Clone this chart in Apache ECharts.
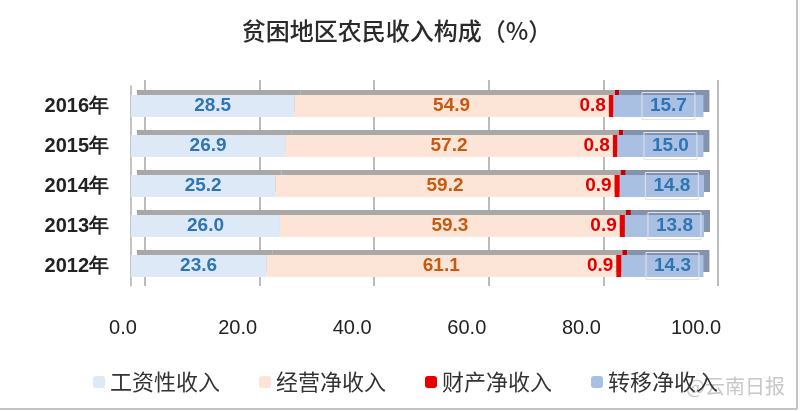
<!DOCTYPE html>
<html><head><meta charset="utf-8">
<script src="https://cdn.jsdelivr.net/npm/echarts@6/dist/echarts.min.js"></script>
<style>html,body{margin:0;padding:0;background:#fff}#c{width:800px;height:411px}</style>
</head><body><div id="c"></div>
<script>
const categories = ['2012年','2013年','2014年','2015年','2016年'];
const seriesNames = ['工资性收入','经营净收入','财产净收入','转移净收入'];
const wage      = [23.6, 26.0, 25.2, 26.9, 28.5];
const business  = [61.1, 59.3, 59.2, 57.2, 54.9];
const property  = [0.9, 0.9, 0.9, 0.8, 0.8];
const transfer  = [14.3, 13.8, 14.8, 15.0, 15.7];
const xTicks = [0, 20, 40, 60, 80, 100];

const chart = echarts.init(document.getElementById('c'), null, {renderer:'canvas'});
const lblFont = 'Liberation Sans, Arial, sans-serif';
function bar(name, data, color, shadow, label, idx){
  return {
    name, type:'bar', stack:'all', data, barWidth:22, xAxisIndex:0, yAxisIndex:0, z: 3+idx,
    itemStyle:{color, shadowColor:shadow, shadowBlur:0, shadowOffsetX:6, shadowOffsetY:-5},
    label: Object.assign({show:true, fontFamily:lblFont, fontWeight:'bold', fontSize:19,
      formatter: p => p.value.toFixed(1)}, label)
  };
}
chart.setOption({
  animation:false,
  title:{text:'贫困地区农民收入构成（%）', left:392, top:14, textAlign:'center',
    textStyle:{fontFamily:'Noto Sans CJK SC', fontSize:24, fontWeight:500, color:'#2a2a2a'}},
  legend:{data:seriesNames, left:88, top:366, itemWidth:12, itemHeight:12, itemGap:39,
    textStyle:{fontFamily:'Noto Sans CJK SC', fontSize:22, color:'#333'}},
  grid:[
    {left:131, right:96, top:86, height:200},
    {left:145, right:82, top:80, height:206}
  ],
  xAxis:[
    {type:'value', gridIndex:0, min:0, max:100, interval:20,
     axisLine:{show:false}, axisTick:{show:false}, splitLine:{show:false},
     axisLabel:{margin:32, fontFamily:lblFont, fontSize:20, color:'#222', padding:[0,16,0,0],
       formatter: v => xTicks.includes(v) ? v.toFixed(1) : ''}},
    {type:'value', gridIndex:1, min:0, max:100, interval:20,
     axisLine:{show:false}, axisTick:{show:false}, axisLabel:{show:false},
     splitLine:{show:true, lineStyle:{color:'#a6a6a6', width:1.5}}}
  ],
  yAxis:[
    {type:'category', gridIndex:0, data:categories,
     axisLine:{show:true, lineStyle:{color:'#b0b0b0', width:1.5}}, offset:6,
     axisTick:{show:false},
     axisLabel:{margin:16, fontFamily:lblFont, fontWeight:'bold', fontSize:20, color:'#222', padding:[8,0,0,0]}},
    {type:'category', gridIndex:1, data:categories, show:false}
  ],
  series:[
    bar(seriesNames[0], wage, '#dde9f6', '#a8a8a8', {position:'inside', color:'#2e75b6'}, 0),
    bar(seriesNames[1], business, '#fce4d6', '#a8a8a8', {position:'inside', color:'#c55a11'}, 1),
    bar(seriesNames[2], property, '#e60000', '#c00000', {position:'left', distance:3, color:'#e00000'}, 2),
    bar(seriesNames[3], transfer, '#aac0e2', '#8393ad', {position:'inside', color:'#2e75b6', offset:[10,0],
      borderColor:'#e4e4e4', borderWidth:1, padding:[4,8,4,8]}, 3)
  ],
  graphic:[
    {type:'text', left:686, top:376, style:{text:'@云南日报', fontFamily:'Noto Sans CJK SC', fontSize:20, fill:'#c8c8c8'}},
    {type:'line', shape:{x1:797,y1:0,x2:797,y2:409}, style:{stroke:'#b0b0b0', lineWidth:1.5}},
    {type:'line', shape:{x1:0,y1:409,x2:797,y2:409}, style:{stroke:'#b0b0b0', lineWidth:1.5}}
  ]
});
</script></body></html>
